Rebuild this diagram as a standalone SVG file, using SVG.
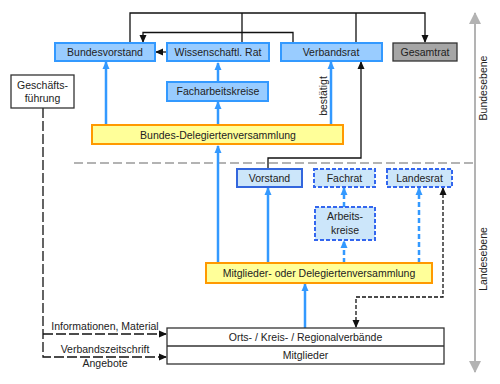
<svg xmlns="http://www.w3.org/2000/svg" width="500" height="384" viewBox="0 0 500 384">
<defs>
<style>
text{font-family:"Liberation Sans",Arial,sans-serif;font-size:10.5px;fill:#222;text-anchor:middle}
.bb{fill:#99ccff;stroke:#3399ff;stroke-width:2}
.vs{fill:#cce6fa;stroke:#3366dd;stroke-width:2}
.ds{fill:#cce6fa;stroke:#3366ee;stroke-width:2;stroke-dasharray:4,2}
.yb{fill:#ffff99;stroke:#ff9900;stroke-width:2}
.wb{fill:#fff;stroke:#333;stroke-width:1.3}
.gb{fill:#a6a6a6;stroke:#333;stroke-width:1.3}
.k{fill:none;stroke:#111;stroke-width:1.3}
.kd{fill:none;stroke:#111;stroke-width:1.3;stroke-dasharray:4,2}
.kl{fill:none;stroke:#111;stroke-width:1.3;stroke-dasharray:10,3}
.bl{fill:none;stroke:#3399ff;stroke-width:2.5}
.bd{fill:none;stroke:#3399ff;stroke-width:2.5;stroke-dasharray:5,3}
.gr{fill:none;stroke:#b3b3b3;stroke-width:2}
</style>
<marker id="ak" markerWidth="8" markerHeight="8" refX="7" refY="4" orient="auto-start-reverse" markerUnits="userSpaceOnUse"><path d="M0,0.5 L8,4 L0,7.5 Z" fill="#111"/></marker>
<marker id="ab" markerWidth="8" markerHeight="8" refX="7" refY="4" orient="auto-start-reverse" markerUnits="userSpaceOnUse"><path d="M0,0.5 L8,4 L0,7.5 Z" fill="#3399ff"/></marker>
<marker id="ag" markerWidth="12" markerHeight="12" refX="11" refY="6" orient="auto-start-reverse" markerUnits="userSpaceOnUse"><path d="M0,0 L12,6 L0,12 Z" fill="#b3b3b3"/></marker>
</defs>
<g id="connectors">
<path class="gr" d="M475,13 V372" marker-start="url(#ag)" marker-end="url(#ag)"/>
<path d="M74,163 H473" fill="none" stroke="#b3b3b3" stroke-width="2" stroke-dasharray="9,4"/>
<path class="k" d="M130,43 V13 H425 V42" marker-end="url(#ak)"/>
<path class="k" d="M242,43 V13 M356,43 V13"/>
<path class="k" d="M293,43 V32.5 H143 V42" marker-end="url(#ak)"/>
<path class="k" d="M167,52 H156" marker-end="url(#ak)"/>
<path class="k" d="M268,169 V158 H361 V62" marker-end="url(#ak)"/>
<path class="bl" d="M106,125 V62" marker-end="url(#ab)"/>
<path class="bl" d="M218,82 V63" marker-end="url(#ab)"/>
<path class="bl" d="M218,125 V102" marker-end="url(#ab)"/>
<path class="bl" d="M331,125 V62" marker-end="url(#ab)"/>
<path class="bl" d="M218,263 V146" marker-end="url(#ab)"/>
<path class="bl" d="M268,263 V188" marker-end="url(#ab)"/>
<path class="bd" d="M344,263 V241" marker-end="url(#ab)"/>
<path class="bd" d="M344,207 V188" marker-end="url(#ab)"/>
<path class="bd" d="M419,263 V188" marker-end="url(#ab)"/>
<path class="bl" d="M305,328 V284" marker-end="url(#ab)"/>
<path class="kd" d="M443,188 V297 H356 V327" marker-start="url(#ak)" marker-end="url(#ak)"/>
<path class="kl" d="M43,108 V357 H166" marker-end="url(#ak)"/>
<path class="kl" d="M43,334 H166" marker-end="url(#ak)"/>
<text x="105" y="330">Informationen, Material</text>
<text x="105" y="353">Verbandszeitschrift</text>
<text x="105" y="367">Angebote</text>
<text transform="translate(327,96) rotate(-90)">bestätigt</text>
<text transform="translate(487,88) rotate(-90)">Bundesebene</text>
<text transform="translate(487,259) rotate(-90)">Landesebene</text>
</g>
<g id="bundesvorstand"><rect class="bb" x="55" y="43" width="100" height="18"/><text x="105" y="56">Bundesvorstand</text></g>
<g id="wissrat"><rect class="bb" x="167" y="43" width="102" height="18"/><text x="218" y="56">Wissenschaftl. Rat</text></g>
<g id="verbandsrat"><rect class="bb" x="281" y="43" width="101" height="18"/><text x="331" y="56">Verbandsrat</text></g>
<g id="gesamtrat"><rect class="gb" x="393" y="43" width="64" height="18"/><text x="425" y="56">Gesamtrat</text></g>
<g id="facharbeitskreise"><rect class="bb" x="167" y="82" width="101" height="19"/><text x="218" y="95">Facharbeitskreise</text></g>
<g id="bdv"><rect class="yb" x="92" y="125" width="251" height="19"/><text x="218" y="138.5">Bundes-Delegiertenversammlung</text></g>
<g id="geschaeftsfuehrung"><rect class="wb" x="11" y="75" width="63" height="33"/><text x="42.5" y="89">Geschäfts-</text><text x="42.5" y="102">führung</text></g>
<g id="vorstand"><rect class="vs" x="237" y="169" width="65" height="18"/><text x="269.5" y="182">Vorstand</text></g>
<g id="fachrat"><rect class="ds" x="314" y="169" width="61" height="18"/><text x="344.5" y="182">Fachrat</text></g>
<g id="landesrat"><rect class="ds" x="387" y="169" width="65" height="18"/><text x="419.5" y="182">Landesrat</text></g>
<g id="arbeitskreise"><rect class="ds" x="315" y="207" width="60" height="33"/><text x="345" y="220">Arbeits-</text><text x="345" y="233.5">kreise</text></g>
<g id="mdv"><rect class="yb" x="206" y="263" width="226" height="20"/><text x="319" y="277">Mitglieder- oder Delegiertenversammlung</text></g>
<g id="orts"><rect class="wb" x="167" y="328" width="277" height="36"/><path d="M167,346 H444" stroke="#333" stroke-width="1.3"/><text x="305.5" y="341">Orts- / Kreis- / Regionalverbände</text><text x="305.5" y="359">Mitglieder</text></g>
</svg>
